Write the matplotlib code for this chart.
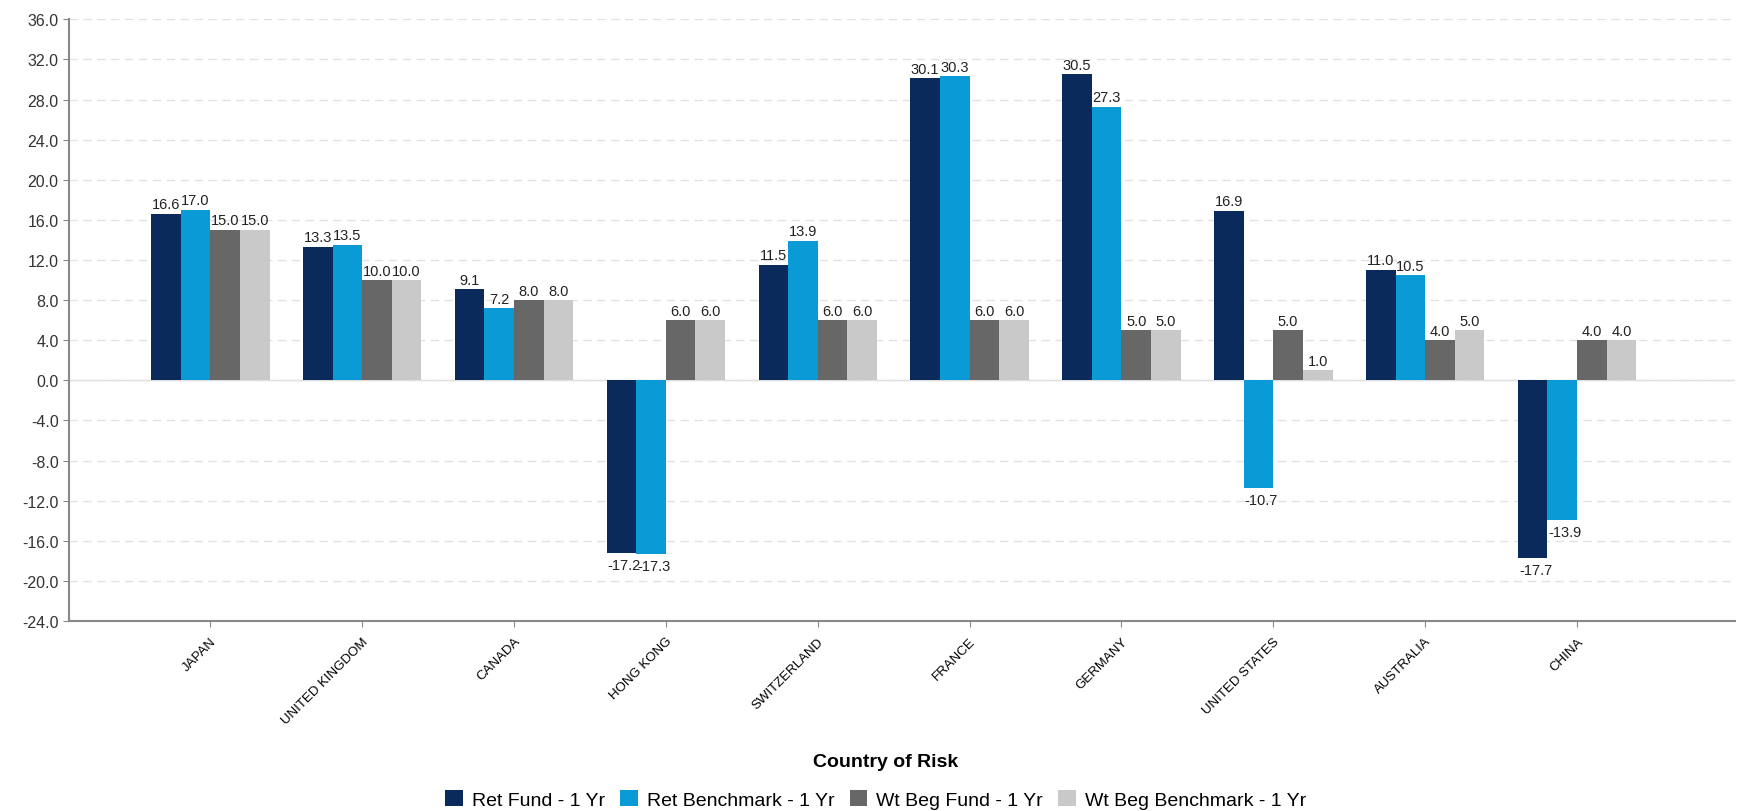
import numpy as np
import matplotlib.pyplot as plt

countries = ['JAPAN', 'UNITED KINGDOM', 'CANADA', 'HONG KONG', 'SWITZERLAND',
             'FRANCE', 'GERMANY', 'UNITED STATES', 'AUSTRALIA', 'CHINA']
ret_fund = [16.6, 13.3, 9.1, -17.2, 11.5, 30.1, 30.5, 16.9, 11.0, -17.7]
ret_bench = [17.0, 13.5, 7.2, -17.3, 13.9, 30.3, 27.3, -10.7, 10.5, -13.9]
wt_fund = [15.0, 10.0, 8.0, 6.0, 6.0, 6.0, 5.0, 5.0, 4.0, 4.0]
wt_bench = [15.0, 10.0, 8.0, 6.0, 6.0, 6.0, 5.0, 1.0, 5.0, 4.0]
series_names = ['Ret Fund - 1 Yr', 'Ret Benchmark - 1 Yr', 'Wt Beg Fund - 1 Yr', 'Wt Beg Benchmark - 1 Yr']
colors = ['#0b2a5c', '#0a9ad6', '#676767', '#c9c9c9']
yticks = np.arange(-24, 37, 4)

fig = plt.figure(figsize=(17.39, 8.12), dpi=100)
ax = fig.add_axes([0.0397, 0.234, 0.958, 0.741])

x = np.arange(len(countries))
w = 0.195
all_series = [ret_fund, ret_bench, wt_fund, wt_bench]
for i, vals in enumerate(all_series):
    pos = x + (i - 1.5) * w
    ax.bar(pos, vals, width=w, color=colors[i], label=series_names[i], zorder=3)
    for px, v in zip(pos, vals):
        if v >= 0:
            ax.text(px, v + 0.25, f'{v:.1f}', ha='center', va='bottom',
                    fontsize=10.5, color='#222222', family='Liberation Sans', zorder=2)
        else:
            ax.text(px + 0.02, v - 0.5, f'{v:.1f}', ha='center', va='top',
                    fontsize=10.5, color='#222222', family='Liberation Sans', zorder=2)

ax.set_xlim(-0.93, 10.04)
ax.set_ylim(-24, 36)
ax.set_yticks(yticks)
ax.set_yticklabels([f'{t:.1f}' for t in yticks], fontsize=11.5, color='#333333',
                   family='Liberation Sans')
ax.set_xticks(x)
ax.set_xticklabels(countries, rotation=45, ha='right', rotation_mode='anchor',
                   fontsize=9.5, family=['Liberation Sans Narrow', 'Liberation Sans'])
ax.tick_params(axis='y', length=4, color='#888888')
ax.tick_params(axis='x', length=4, color='#888888', pad=6)

ax.grid(axis='y', color='#e2e2e2', linestyle=(0, (6, 4)), linewidth=1, zorder=0)
ax.axhline(0, color='#dddddd', linewidth=1, zorder=1)
for s in ['top', 'right']:
    ax.spines[s].set_visible(False)
ax.spines['left'].set_color('#888888')
ax.spines['left'].set_linewidth(1.5)
ax.spines['bottom'].set_color('#888888')
ax.spines['bottom'].set_linewidth(1.5)

fig.text(0.5095, 0.061, 'Country of Risk', ha='center', va='center', fontsize=14,
         fontweight='bold', family='Liberation Sans')
fig.legend(loc='center', bbox_to_anchor=(0.5035, 0.014), ncol=4, frameon=False,
           handlelength=0.9, handleheight=0.9, handletextpad=0.45,
           columnspacing=0.8, prop={'family': 'Liberation Sans', 'size': 14})

fig.savefig('out.png', dpi=100)
